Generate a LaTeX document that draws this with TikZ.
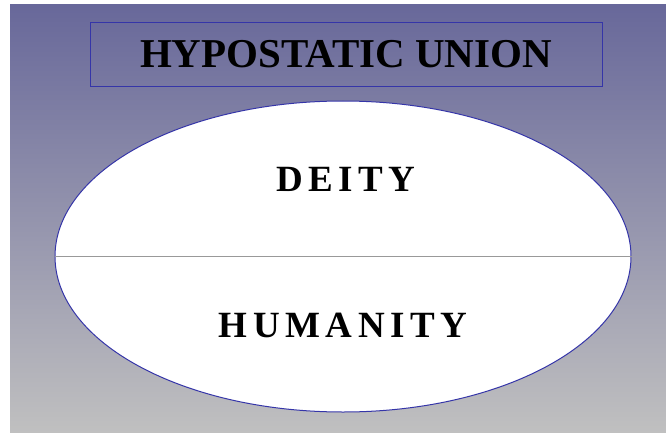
\documentclass[tikz,border=0pt]{standalone}
\usepackage{fontspec}
\setmainfont{Liberation Serif}
\usetikzlibrary{shapes.geometric}

\definecolor{bgtop}{HTML}{68689A}
\definecolor{bgbottom}{HTML}{C0C0C0}
\definecolor{rim}{HTML}{3535A8}

\tikzset{
  titlebox/.style={draw=rim, line width=0.8pt, minimum width=512pt, minimum height=64pt, inner sep=0pt,
    font=\fontsize{41}{46}\selectfont\bfseries},
  nature/.style={anchor=base, inner sep=0pt,
    font=\fontsize{37}{42}\selectfont\bfseries\addfontfeature{LetterSpace=15}},
}

\begin{document}
\begin{tikzpicture}[x=1pt, y=-1pt]
        \useasboundingbox (0,0) rectangle (666,433);
        % background
        \shade[top color=bgtop, bottom color=bgbottom] (10,5) rectangle (666,433);

        % title
        \node[titlebox] (title) at (346,54) {HYPOSTATIC UNION};

        % the two natures
        \node[ellipse, draw=rim, line width=1pt, fill=white, minimum width=576pt, minimum height=311pt, inner sep=0pt]
            (union) at (343,256.5) {};
        \draw[gray!80] (union.west) -- (union.east);
        \node[nature] (deity) at (346,191) {DEITY};
        \node[nature] (humanity) at (343,337) {HUMANITY};
\end{tikzpicture}
\end{document}
